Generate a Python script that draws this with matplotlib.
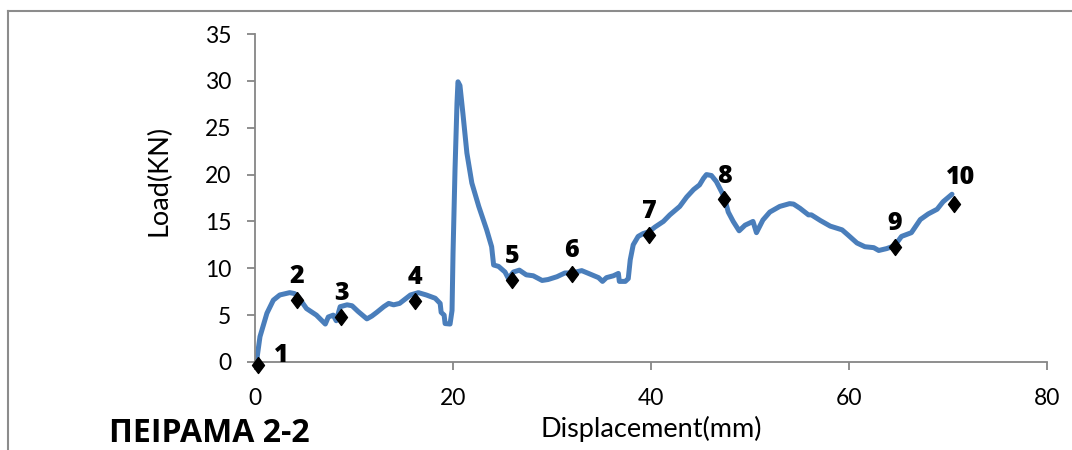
import matplotlib.pyplot as plt
from matplotlib.lines import Line2D

plt.rcParams['font.family'] = ['Lato', 'DejaVu Sans']

# load-displacement curve
disp = [0.17, 0.5, 1.2, 1.85, 2.5, 3.5, 4.0, 4.4, 5.2, 6.2, 7.1, 7.4, 7.9, 8.2, 8.6,
        9.3, 9.8, 10.4, 11.3, 11.8, 12.3, 13.0, 13.5, 14.0, 14.6, 15.15, 15.7, 16.5,
        17.3, 18.2, 18.7, 18.8, 19.1, 19.2, 19.7, 19.9, 20.0, 20.2, 20.4, 20.5, 20.7,
        21.0, 21.4, 21.9, 22.6, 23.4, 23.9, 24.1, 24.6, 25.25, 25.6, 26.1, 26.7, 27.4,
        28.1, 29.0, 29.6, 30.5, 31.3, 32.0, 33.0, 33.8, 34.7, 35.1, 35.5, 36.2, 36.7,
        36.8, 37.4, 37.7, 37.9, 38.2, 38.7, 39.2, 39.8, 40.4, 41.25, 41.9, 42.9, 43.6,
        44.3, 44.9, 45.3, 45.6, 46.1, 46.6, 47.4, 47.8, 48.3, 48.9, 49.5, 50.3, 50.65,
        51.3, 52.0, 53.0, 54.0, 54.4, 55.05, 55.9, 56.2, 57.1, 58.1, 59.3, 59.9, 60.8,
        61.6, 62.5, 63.0, 63.8, 64.6, 65.3, 66.3, 67.2, 68.0, 68.9, 69.5, 70.4]
load = [0.2, 2.7, 5.2, 6.6, 7.15, 7.4, 7.3, 6.9, 5.7, 5.0, 4.05, 4.8, 5.0, 4.4, 5.9,
        6.1, 6.0, 5.4, 4.6, 4.9, 5.3, 5.9, 6.25, 6.1, 6.25, 6.7, 7.15, 7.4,
        7.15, 6.8, 6.25, 5.3, 5.0, 4.1, 4.05, 5.5, 11.6, 20.5, 27.6, 29.9, 29.5,
        26.5, 22.3, 19.1, 16.6, 14.1, 12.3, 10.35, 10.2, 9.6, 8.9, 9.6, 9.8, 9.3,
        9.2, 8.7, 8.8, 9.1, 9.5, 9.5, 9.75, 9.4, 9.0, 8.6, 9.0, 9.2, 9.45,
        8.6, 8.6, 8.9, 10.9, 12.5, 13.4, 13.7, 13.9, 14.4, 15.0, 15.7, 16.6, 17.6,
        18.4, 18.9, 19.6, 20.0, 19.9, 19.25, 17.6, 16.0, 15.0, 14.0, 14.6, 15.0, 13.8,
        15.15, 16.0, 16.6, 16.9, 16.85, 16.4, 15.7, 15.7, 15.1, 14.5, 14.1, 13.55, 12.7,
        12.3, 12.2, 11.9, 12.1, 12.4, 13.4, 13.8, 15.2, 15.8, 16.3, 17.1, 17.9]

# numbered points
pt_x = [0.3, 4.2, 8.7, 16.2, 26.0, 32.0, 39.8, 47.4, 64.6, 70.6]
pt_y = [-0.3, 6.6, 4.85, 6.55, 8.75, 9.4, 13.6, 17.35, 12.3, 16.9]
pt_labels = ['1', '2', '3', '4', '5', '6', '7', '8', '9', '10']

fig = plt.figure(figsize=(10.72, 4.5), dpi=100)
ax = fig.add_axes([0.2379, 0.1956, 0.7388, 0.7288])

# slightly tall diamond like the excel marker
diamond = [(0, 1), (0.75, 0), (0, -1), (-0.75, 0), (0, 1)]

ax.plot(disp, load, color='#4a7ebb', lw=3.6, solid_capstyle='round', solid_joinstyle='round')
ax.plot(pt_x, pt_y, ls='none', marker=diamond, color='black', ms=11.5, clip_on=False, zorder=5)
for s, x, y in zip(pt_labels, pt_x, pt_y):
    off = {'1': (17, 2), '10': (5, 14)}.get(s, (0, 12))
    ax.annotate(s, (x, y), xytext=off, textcoords='offset points',
                ha='center', va='baseline', fontsize=18, fontweight='heavy',
                family=['Open Sans', 'DejaVu Sans'], annotation_clip=False)

ax.set_xlim(0, 80)
ax.set_ylim(0, 35)
ax.set_xticks(range(0, 81, 20))
ax.set_yticks(range(0, 36, 5))
for side in ['top', 'right']:
    ax.spines[side].set_visible(False)
for side in ['left', 'bottom']:
    ax.spines[side].set_color('#868686')
    ax.spines[side].set_linewidth(1.3)
ax.tick_params(axis='both', colors='#868686', labelcolor='black', labelsize=16.5,
               length=6, width=1.3, direction='out')
ax.tick_params(axis='x', pad=13)
ax.tick_params(axis='y', pad=11)
ax.set_xlabel('Displacement(mm)', fontsize=19.5, labelpad=5)
ax.set_ylabel('Load(KN)', fontsize=19.5, labelpad=17)
ax.yaxis.set_label_coords(-0.105, 0.555)

fig.text(109 / 1072, 8 / 450, 'ΠΕΙΡΑΜΑ 2-2', fontsize=23, fontweight='bold',
         family=['Open Sans', 'DejaVu Sans'], va='baseline', ha='left')

# chart frame
fig.add_artist(Line2D([8 / 1072, 1.0], [1 - 11 / 450] * 2, color='#8c8c8c', lw=1.5))
fig.add_artist(Line2D([8 / 1072] * 2, [0, 1 - 11 / 450], color='#8c8c8c', lw=1.5))

fig.savefig('out.png', dpi=100)
